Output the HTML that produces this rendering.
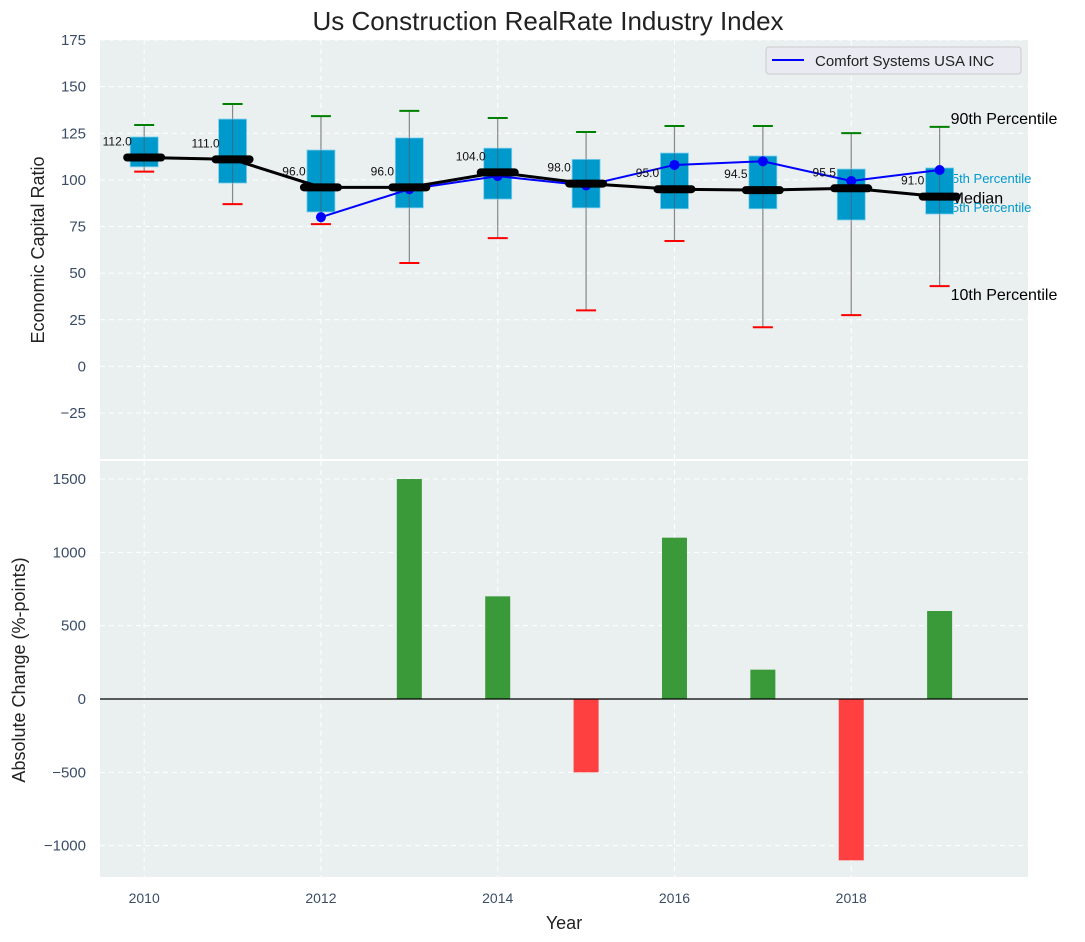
<!DOCTYPE html>
<html><head><meta charset="utf-8"><style>
body{margin:0;background:#fff;}
svg{font-family:"Liberation Sans","DejaVu Sans",sans-serif;display:block}
</style></head><body>
<svg id="chart" width="1085" height="942" xmlns="http://www.w3.org/2000/svg">
<text x="548" y="30" font-size="26" fill="#222" text-anchor="middle">Us Construction RealRate Industry Index</text>
<rect x="100" y="40" width="928" height="419" fill="#eaeff0"/>
<rect x="100" y="461" width="928" height="416" fill="#eaeff0"/>
<g id="topg"></g><g id="botg"></g>
<text transform="translate(44,250) rotate(-90)" font-size="18" fill="#222" text-anchor="middle">Economic Capital Ratio</text>
<text transform="translate(25,670) rotate(-90)" font-size="18" fill="#222" text-anchor="middle">Absolute Change (%-points)</text>
<text x="564" y="929" font-size="18" fill="#222" text-anchor="middle">Year</text>
<g>
<rect x="766" y="47" width="255" height="27" rx="3" fill="#eaeaf2" stroke="#ccc"/>
<line x1="772" y1="60" x2="804" y2="60" stroke="#0000ff" stroke-width="2"/>
<text x="815" y="66" font-size="15" fill="#222">Comfort Systems USA INC</text>
</g>
</svg>
<script>
const years=[2010,2011,2012,2013,2014,2015,2016,2017,2018,2019];
const p90=[129.4,140.7,134.2,137,133.2,125.7,128.9,128.9,125.1,128.4];
const q3=[123,132.6,116,122.5,117,111,114.4,112.8,105.8,106.4];
const medians=[112,111,96,96,104,98,95,94.5,95.5,91];
const q1=[107,98.3,82.8,85,89.7,85,84.5,84.5,78.5,81.7];
const p10=[104.4,87,76.3,55.4,68.8,30,67.2,21,27.5,43];
const company=[null,null,80,95,102,97,108,110,99.4,105.3];
const changes=[0,0,0,1500,700,-500,1100,200,-1100,600];
const topTicks=[-25,0,25,50,75,100,125,150,175];
const botTicks=[-1000,-500,0,500,1000,1500];
const xTicks=[2010,2012,2014,2016,2018];

const NS="http://www.w3.org/2000/svg";
const X=y=>100+(y-2009.5)*(928/10.5);
const YT=v=>40+(175-v)*(373/200);
const YB=v=>699-v*(73.33/500);
function mk(p,tag,a){const e=document.createElementNS(NS,tag);for(const k in a)e.setAttribute(k,a[k]);p.appendChild(e);return e;}
const topG=document.getElementById('topg'),botG=document.getElementById('botg');
topTicks.forEach(t=>{const y=YT(t);
 const g=mk(topG,'line',{x1:100,x2:1028,y1:y,y2:y,stroke:'#fff','stroke-dasharray':'5,4','stroke-width':1});
 
 const tx=mk(topG,'text',{x:86,y:y+5,'font-size':15,fill:'#3b4d66','text-anchor':'end'});tx.textContent=t<0?'\u2212'+(-t):t;
 });
botTicks.forEach(t=>{const y=YB(t);
 const g=mk(botG,'line',{x1:100,x2:1028,y1:y,y2:y,stroke:'#fff','stroke-dasharray':'5,4','stroke-width':1});
 
 const tx=mk(botG,'text',{x:86,y:y+5,'font-size':15,fill:'#3b4d66','text-anchor':'end'});tx.textContent=t<0?'\u2212'+(-t):t;
 });
xTicks.forEach(t=>{const x=X(t);
 const g1=mk(topG,'line',{x1:x,x2:x,y1:40,y2:459,stroke:'#fff','stroke-dasharray':'5,4'});
 
 const g2=mk(botG,'line',{x1:x,x2:x,y1:461,y2:877,stroke:'#fff','stroke-dasharray':'5,4'});
 
 const tx=mk(botG,'text',{x:x,y:903,'font-size':14,fill:'#3b4d66','text-anchor':'middle'});tx.textContent=t;
 });
const L=years.length-1,lx=X(years[L]);
[['90th Percentile',p90[L],'#000',16,11,-3],['75th Percentile',q3[L],'#0099cc',13,5,15],['Median',medians[L],'#000',16,11,7],['25th Percentile',q1[L],'#0099cc',13,5,-2],['10th Percentile',p10[L],'#000',16,11,14]].forEach(a=>{
 const t=mk(topG,'text',{x:lx+a[4],y:YT(a[1])+a[5],'font-size':a[3],fill:a[2]});
 t.textContent=a[0];});
years.forEach((yr,i)=>{const x=X(yr),hw=14;
 const w=mk(topG,'line',{x1:x,x2:x,y1:YT(p90[i]),y2:YT(p10[i]),stroke:'#888','stroke-width':1.2});
 
 const b=mk(topG,'rect',{x:x-hw,y:YT(q3[i]),width:2*hw,height:YT(q1[i])-YT(q3[i]),fill:'#0099cc',stroke:'#7fd0ee','stroke-width':0.8});
 
 const wi=mk(topG,'line',{x1:x,x2:x,y1:YT(q3[i]),y2:YT(q1[i]),stroke:'#556','stroke-width':1,opacity:0.6});
 
 const c1=mk(topG,'line',{x1:x-10,x2:x+10,y1:YT(p90[i]),y2:YT(p90[i]),stroke:'#008000','stroke-width':2});
 
 const c2=mk(topG,'line',{x1:x-10,x2:x+10,y1:YT(p10[i]),y2:YT(p10[i]),stroke:'#ff0000','stroke-width':2});
 
});
const ml=mk(topG,'polyline',{points:years.map((y,i)=>X(y)+','+YT(medians[i])).join(' '),fill:'none',stroke:'#000','stroke-width':3});

const pts=years.map((y,i)=>company[i]==null?null:X(y)+','+YT(company[i])).filter(p=>p);
const cl=mk(topG,'polyline',{points:pts.join(' '),fill:'none',stroke:'#0000ff','stroke-width':2});

years.forEach((yr,i)=>{if(company[i]==null)return;
 const d=mk(topG,'circle',{cx:X(yr),cy:YT(company[i]),r:5,fill:'#0000ff'});
 });
years.forEach((yr,i)=>{const x=X(yr),y=YT(medians[i]);
 const m=mk(topG,'line',{x1:x-17,x2:x+17,y1:y,y2:y,stroke:'#000','stroke-width':8,'stroke-linecap':'round'});
 
 const t=mk(topG,'text',{x:x-27,y:y-12,'font-size':12,fill:'#111','text-anchor':'middle'});t.textContent=medians[i].toFixed(1);
 });
const bw=25;
years.forEach((yr,i)=>{const v=changes[i];if(!v)return;
 const y0=YB(0),y1=YB(v);
 const r=mk(botG,'rect',{x:X(yr)-bw/2,y:Math.min(y0,y1),width:bw,height:Math.abs(y1-y0),fill:v>0?'#3a9a3a':'#ff4040'});
 });
const z=mk(botG,'line',{x1:100,x2:1028,y1:YB(0),y2:YB(0),stroke:'#000','stroke-width':1.2});

</script>
</body></html>
